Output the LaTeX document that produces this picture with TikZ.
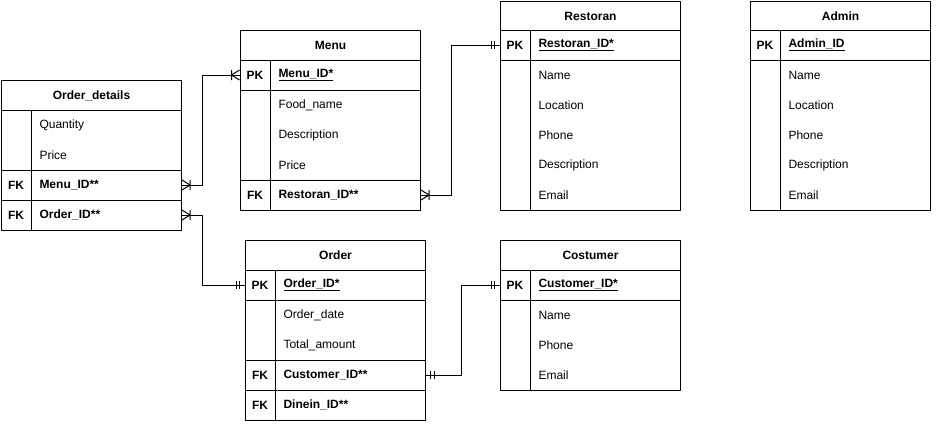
\documentclass[tikz,border=0pt]{standalone}
\usepackage{fontspec}
\setmainfont{Liberation Sans}
\usetikzlibrary{arrows.meta}

% crow's foot with bar (one or many)
\pgfdeclarearrow{
  name = ERmany,
  defaults = {length = 8pt, width = 10pt},
  setup code = {
    \pgfarrowssettipend{0pt}
    \pgfarrowssetlineend{0pt}
    \pgfarrowssetvisualtipend{0pt}
    \pgfarrowssetbackend{-\pgfarrowlength}
    \pgfarrowssetvisualbackend{-\pgfarrowlength}
    \pgfarrowsupperhullpoint{0pt}{.5\pgfarrowwidth}
    \pgfarrowsupperhullpoint{-\pgfarrowlength}{.5\pgfarrowwidth}
    \pgfarrowssavethe\pgfarrowlength
    \pgfarrowssavethe\pgfarrowwidth
  },
  drawing code = {
    \pgfsetdash{}{0pt}
    \pgfpathmoveto{\pgfqpoint{0pt}{.5\pgfarrowwidth}}
    \pgfpathlineto{\pgfqpoint{-\pgfarrowlength}{0pt}}
    \pgfpathlineto{\pgfqpoint{0pt}{-.5\pgfarrowwidth}}
    \pgfpathmoveto{\pgfqpoint{-\pgfarrowlength}{.5\pgfarrowwidth}}
    \pgfpathlineto{\pgfqpoint{-\pgfarrowlength}{-.5\pgfarrowwidth}}
    \pgfusepathqstroke
  },
  parameters = {\the\pgfarrowlength,\the\pgfarrowwidth},
}
% two bars (one and only one)
\pgfdeclarearrow{
  name = ERone,
  defaults = {length = 8pt, width = 8pt},
  setup code = {
    \pgfarrowssettipend{0pt}
    \pgfarrowssetlineend{0pt}
    \pgfarrowssetvisualtipend{0pt}
    \pgfarrowssetbackend{-\pgfarrowlength}
    \pgfarrowssetvisualbackend{-\pgfarrowlength}
    \pgfarrowsupperhullpoint{0pt}{.5\pgfarrowwidth}
    \pgfarrowsupperhullpoint{-\pgfarrowlength}{.5\pgfarrowwidth}
    \pgfarrowssavethe\pgfarrowlength
    \pgfarrowssavethe\pgfarrowwidth
  },
  drawing code = {
    \pgfsetdash{}{0pt}
    \pgfpathmoveto{\pgfqpoint{-\pgfarrowlength}{.5\pgfarrowwidth}}
    \pgfpathlineto{\pgfqpoint{-\pgfarrowlength}{-.5\pgfarrowwidth}}
    \pgfpathmoveto{\pgfqpoint{-.6\pgfarrowlength}{.5\pgfarrowwidth}}
    \pgfpathlineto{\pgfqpoint{-.6\pgfarrowlength}{-.5\pgfarrowwidth}}
    \pgfusepathqstroke
  },
  parameters = {\the\pgfarrowlength,\the\pgfarrowwidth},
}

\begin{document}
\begin{tikzpicture}[x=1pt,y=-1pt,line width=1pt,line join=round,
  font=\fontsize{12}{14}\selectfont,
  hdr/.style={draw,anchor=north west,minimum width=180pt,minimum height=30pt,inner sep=0pt,font=\fontsize{12}{14}\selectfont\bfseries},
  keyc/.style={minimum width=30pt,minimum height=30pt,inner sep=0pt,font=\fontsize{12}{14}\selectfont\bfseries},
  fld/.style={anchor=west,text width=134pt,inner xsep=8pt,inner ysep=0pt,minimum height=30pt,align=left},
  keyfld/.style={fld,font=\fontsize{12}{14}\selectfont\bfseries}]
	\useasboundingbox (0,0) rectangle (948,432);

	% Order_details
	\node[hdr] (odet) at (1,80) {Order\_details};
	\draw (1,110) rectangle (181,230);
	\draw (31,110) -- (31,230);
	\draw (1,170) -- (181,170) (1,200) -- (181,200);
	\node[fld] (odet-qty) at (31,125) {Quantity};
	\node[fld] (odet-price) at (31,155) {Price};
	\node[keyc] (odet-fk1) at (16,185) {FK};
	\node[keyfld] (odet-menuid) at (31,185) {Menu\_ID**};
	\node[keyc] (odet-fk2) at (16,215) {FK};
	\node[keyfld] (odet-orderid) at (31,215) {Order\_ID**};

	% Menu
	\node[hdr] (menu) at (240,30) {Menu};
	\draw (240,60) rectangle (420,210);
	\draw (270,60) -- (270,210);
	\draw (240,90) -- (420,90) (240,180) -- (420,180);
	\node[keyc] (menu-pk) at (255,75) {PK};
	\node[keyfld] (menu-id) at (270,75) {\underline{Menu\_ID*}};
	\foreach \f [count=\i] in {Food\_name,Description,Price}
		\node[fld] (menu-f\i) at (270,75+30*\i) {\f};
	\node[keyc] (menu-fk) at (255,195) {FK};
	\node[keyfld] (menu-restid) at (270,195) {Restoran\_ID**};

	% Restoran
	\node[hdr,minimum height=29pt] (rest) at (500,1) {Restoran};
	\draw (500,30) rectangle (680,210);
	\draw (530,30) -- (530,210);
	\draw (500,60) -- (680,60);
	\node[keyc] (rest-pk) at (515,45) {PK};
	\node[keyfld] (rest-id) at (530,45) {\underline{Restoran\_ID*}};
	\foreach \f [count=\i] in {Name,Location,Phone,Description,Email}
		\node[fld] (rest-f\i) at (530,45+30*\i) {\f};

	% Admin
	\node[hdr,minimum height=29pt] (admin) at (750,1) {Admin};
	\draw (750,30) rectangle (930,210);
	\draw (780,30) -- (780,210);
	\draw (750,60) -- (930,60);
	\node[keyc] (admin-pk) at (765,45) {PK};
	\node[keyfld] (admin-id) at (780,45) {\underline{Admin\_ID}};
	\foreach \f [count=\i] in {Name,Location,Phone,Description,Email}
		\node[fld] (admin-f\i) at (780,45+30*\i) {\f};

	% Order
	\node[hdr] (order) at (245,240) {Order};
	\draw (245,270) rectangle (425,420);
	\draw (275,270) -- (275,420);
	\draw (245,300) -- (425,300) (245,360) -- (425,360) (245,390) -- (425,390);
	\node[keyc] (order-pk) at (260,285) {PK};
	\node[keyfld] (order-id) at (275,285) {\underline{Order\_ID*}};
	\node[fld] (order-date) at (275,315) {Order\_date};
	\node[fld] (order-total) at (275,345) {Total\_amount};
	\node[keyc] (order-fk1) at (260,375) {FK};
	\node[keyfld] (order-custid) at (275,375) {Customer\_ID**};
	\node[keyc] (order-fk2) at (260,405) {FK};
	\node[keyfld] (order-dineid) at (275,405) {Dinein\_ID**};

	% Costumer
	\node[hdr] (cust) at (500,240) {Costumer};
	\draw (500,270) rectangle (680,390);
	\draw (530,270) -- (530,390);
	\draw (500,300) -- (680,300);
	\node[keyc] (cust-pk) at (515,285) {PK};
	\node[keyfld] (cust-id) at (530,285) {\underline{Customer\_ID*}};
	\foreach \f [count=\i] in {Name,Phone,Email}
		\node[fld] (cust-f\i) at (530,285+30*\i) {\f};

	% relations
	\draw[{ERmany}-{ERmany}] (odet-menuid.east) -- ++(20,0) |- (menu-pk.west);
	\draw[{ERmany}-{ERone}] (odet-orderid.east) -- ++(20,0) |- (order-pk.west);
	\draw[{ERmany}-{ERone}] (menu-restid.east) -- ++(30,0) |- (rest-pk.west);
	\draw[{ERone}-{ERone}] (order-custid.east) -- ++(35,0) |- (cust-pk.west);
\end{tikzpicture}
\end{document}
